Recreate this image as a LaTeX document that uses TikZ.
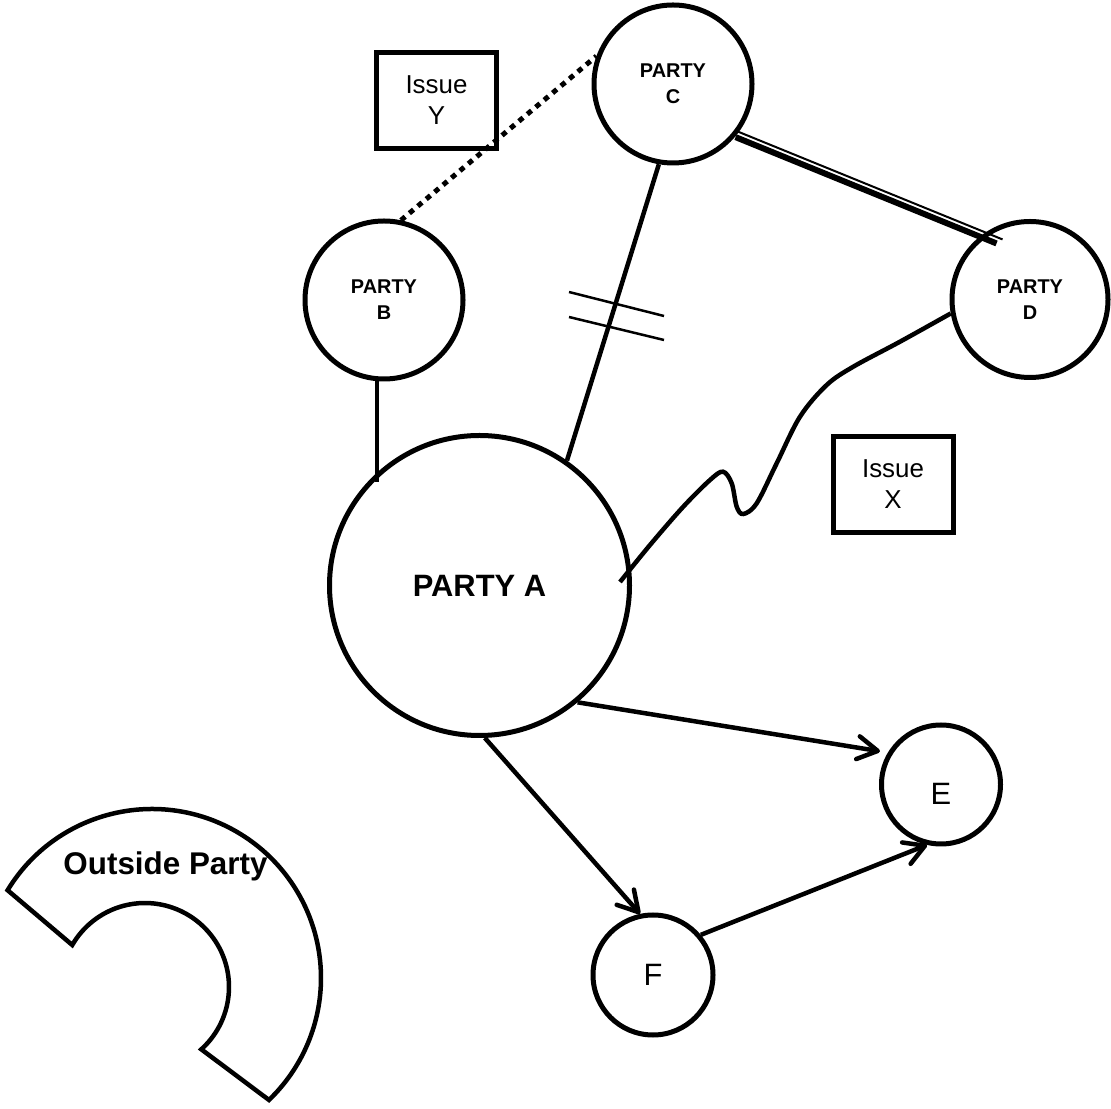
\documentclass[tikz,border=0pt]{standalone}
\usepackage{fontspec}
\setmainfont{Liberation Sans}
\usetikzlibrary{arrows.meta,calc}
\begin{document}
\begin{tikzpicture}[x=1bp,y=1bp,
  party/.style={circle,draw,line width=5bp,inner sep=0pt,align=center},
  smallparty/.style={party,minimum size=158bp,font=\fontsize{20}{26}\selectfont\bfseries},
  letterparty/.style={party,font=\fontsize{31}{36}\selectfont},
  issue/.style={rectangle,draw,line width=5bp,inner sep=0pt,minimum width=120bp,minimum height=96bp,align=center,font=\fontsize{26}{31}\selectfont},
  conn/.style={line width=4.5bp},
  arr/.style={conn,-{Straight Barb[length=20bp,width=23bp,round]}},
  hatchline/.style={line width=2.5bp}
  ]
\useasboundingbox (0,0) rectangle (1111,1109);

% nodes
\node[party,minimum size=300bp,font=\fontsize{31}{36}\selectfont\bfseries] (A) at (479.5,523.5) {PARTY A};
\node[smallparty] (B) at (384,809) {PARTY\\B};
\node[smallparty] (C) at (673,1025) {PARTY\\C};
\node[smallparty,minimum size=156bp] (D) at (1030,809.5) {PARTY\\D};
\node[letterparty,minimum size=119bp,label={[font=\fontsize{31}{36}\selectfont,yshift=-9bp]center:E}] (E) at (941,324.5) {};
\node[letterparty,minimum size=120bp] (F) at (653,134) {F};
\node[issue] (IY) at (436.5,1008.5) {Issue\\Y};
\node[issue] (IX) at (893,624.5) {Issue\\X};

% B - A
\draw[conn,shorten >=-10bp] ([xshift=-7bp]B.south) -- ([xshift=-7bp]B.south |- A.132);
% B - C dotted
\draw[line width=5bp,dash pattern=on 5.5bp off 5.5bp] (B.78) -- (C.160);
% C - A with hatch marks
\draw[conn] (C.260) -- (A.55);
\draw[hatchline] (569,817) -- (664,793);
\draw[hatchline] (569,792) -- (664,769);
% C - D double line
\draw[line width=6bp,shorten >=-17bp] ([shift={(-0.77,-1.85)}]C.-39) -- ([shift={(-0.77,-1.85)}]D.127);
\draw[line width=2bp,shorten >=-21bp] ([shift={(1.54,3.69)}]C.-39) -- ([shift={(1.54,3.69)}]D.127);
% A - D wavy
\coordinate (w0) at (620,527);
\draw[conn] plot[smooth,tension=0.55] coordinates {(w0) (650,564) (683,602) (710,629) (723,637.3) (731.7,625.7) (736.7,602.3) (743.3,595) (756.7,605.7) (776.7,645.7) (800,692.3) (826.7,724) (853.3,742.3) (900,767.3) (D.190)};
% arrows
\draw[arr,shorten >=8bp] (A.-50) -- (E.149);
\draw[arr] (A.-88) -- (F.102);
\draw[arr] (F.40) -- (E.-103);

% outside party
\draw[line width=4.5bp] ($(152,131)+(148.7:169)$) arc[start angle=148.7,end angle=-46.2,radius=169]
  -- ($(145,122)+(-47.9:84)$) arc[start angle=-47.9,end angle=150,radius=84] -- cycle;
\node[font=\fontsize{31.5}{36}\selectfont\bfseries] (OP) at (165.5,243) {Outside Party};
\end{tikzpicture}
\end{document}
